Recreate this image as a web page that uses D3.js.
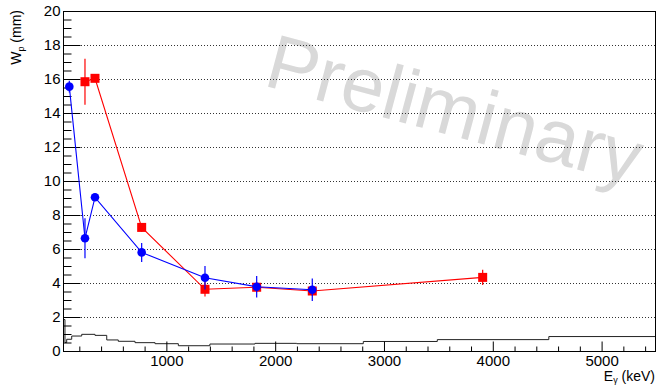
<!DOCTYPE html>
<html>
<head>
<meta charset="utf-8">
<script src="https://cdn.jsdelivr.net/npm/d3@7"></script>
<style>
  html, body { margin: 0; padding: 0; background: #fff; }
  svg { display: block; font-family: "Liberation Sans", Arial, Helvetica, sans-serif; }
</style>
</head>
<body>
<script>
// ---- data ----
const blueEnergy = [108, 252, 344, 773, 1355, 1830, 2341];
const blueWp     = [15.55, 6.63, 9.04, 5.80, 4.31, 3.78, 3.60];
const blueErr    = [0.34, 1.18, 0.10, 0.56, 0.69, 0.63, 0.66];

const redEnergy  = [252, 344, 773, 1355, 1830, 2341, 3907];
const redWp      = [15.84, 16.04, 7.27, 3.63, 3.75, 3.53, 4.33];
const redErr     = [1.35, 0.10, 0.25, 0.43, 0.30, 0.30, 0.45];

// background histogram (bin edges in keV, contents)
const histEdges  = [50, 68, 84, 130, 222, 344, 452, 558, 712, 896, 1110, 1400, 1815, 2198, 2810, 3490, 4515, 5500];
const histValues = [1.85, 0.50, 0.69, 0.88, 0.98, 0.92, 0.65, 0.57, 0.49, 0.43, 0.31, 0.41, 0.45, 0.43, 0.56, 0.67, 0.85];

const yMajorTicks = [0, 2, 4, 6, 8, 10, 12, 14, 16, 18, 20];
const xMajorTicks = [1000, 2000, 3000, 4000, 5000];
const yTickLabels = yMajorTicks.map(String);
const xTickLabels = xMajorTicks.map(String);

// ---- layout ----
const W = 657, H = 385;
const L = 63, R = 656, T = 11, B = 351;

const svg = d3.select("body").append("svg").attr("width", W).attr("height", H);
svg.append("rect").attr("width", W).attr("height", H).attr("fill", "#fff");

const x = d3.scaleLinear().domain([50, 5500]).range([L, R]);
const y = d3.scaleLinear().domain([0, 20]).range([B, T]);

// watermark
svg.append("text")
  .attr("transform", "translate(262,85) rotate(15)")
  .attr("font-size", 77)
  .attr("fill", "#d9d9d9")
  .text("Preliminary");

// grid
svg.append("g").selectAll("line")
  .data(yMajorTicks.filter(v => v > 0 && v < 20))
  .join("line")
  .attr("x1", L).attr("x2", R)
  .attr("y1", d => y(d) + 0.5).attr("y2", d => y(d) + 0.5)
  .attr("stroke", "#333").attr("stroke-width", 1)
  .attr("stroke-dasharray", "1,2");

// histogram
const histPts = histEdges.map((e, i) => [e, histValues[Math.min(i, histValues.length - 1)]]);
svg.append("path")
  .attr("d", d3.line().x(d => x(d[0])).y(d => y(d[1])).curve(d3.curveStepAfter)(histPts))
  .attr("fill", "none").attr("stroke", "#222").attr("stroke-width", 1);

// y axis
const yMinor = d3.range(0, 20.01, 0.5).filter(v => !yMajorTicks.includes(v));
const yAxis = svg.append("g").attr("transform", `translate(${L + 0.5},0)`);
yAxis.call(d3.axisLeft(y).tickValues(yMajorTicks).tickSize(-17).tickPadding(3)
  .tickFormat((d, i) => yTickLabels[i]));
const yAxisMin = svg.append("g").attr("transform", `translate(${L + 0.5},0)`);
yAxisMin.call(d3.axisLeft(y).tickValues(yMinor).tickSize(-8).tickFormat(""));

// x axis
const xMinor = d3.range(200, 5500, 200).filter(v => !xMajorTicks.includes(v));
const xAxis = svg.append("g").attr("transform", `translate(0,${B + 0.5})`);
xAxis.call(d3.axisBottom(x).tickValues(xMajorTicks).tickSize(-10).tickPadding(4)
  .tickFormat((d, i) => xTickLabels[i]));
const xAxisMin = svg.append("g").attr("transform", `translate(0,${B + 0.5})`);
xAxisMin.call(d3.axisBottom(x).tickValues(xMinor).tickSize(-5).tickFormat(""));

[yAxis, yAxisMin, xAxis, xAxisMin].forEach(g => {
  g.select(".domain").remove();
  g.selectAll(".tick line").attr("stroke", "#000");
  g.selectAll("text").attr("font-size", 15).attr("fill", "#000")
    .attr("font-family", '"Liberation Sans", Arial, sans-serif');
});

// frame
svg.append("rect")
  .attr("x", L + 0.5).attr("y", T + 0.5)
  .attr("width", R - L - 1).attr("height", B - T)
  .attr("fill", "none").attr("stroke", "#000").attr("stroke-width", 1);

// series
function drawSeries(xs, ys, es, color, shape) {
  const pts = xs.map((e, i) => ({ e, v: ys[i], err: es[i] }));
  const g = svg.append("g");
  g.append("path")
    .attr("d", d3.line().x(d => x(d.e)).y(d => y(d.v))(pts))
    .attr("fill", "none").attr("stroke", color).attr("stroke-width", 1.1);
  g.selectAll("line.err").data(pts).join("line")
    .attr("class", "err")
    .attr("x1", d => x(d.e)).attr("x2", d => x(d.e))
    .attr("y1", d => y(d.v + d.err)).attr("y2", d => y(d.v - d.err))
    .attr("stroke", color).attr("stroke-width", 1.2);
  if (shape === "circle") {
    g.selectAll("circle").data(pts).join("circle")
      .attr("cx", d => x(d.e)).attr("cy", d => y(d.v)).attr("r", 4.3)
      .attr("fill", color);
  } else {
    const s = 9;
    g.selectAll("rect").data(pts).join("rect")
      .attr("x", d => x(d.e) - s / 2).attr("y", d => y(d.v) - s / 2)
      .attr("width", s).attr("height", s).attr("fill", color);
  }
}
drawSeries(redEnergy, redWp, redErr, "#ff0000", "square");
drawSeries(blueEnergy, blueWp, blueErr, "#0000ff", "circle");

// axis titles
const yt = svg.append("text")
  .attr("transform", "translate(21,10) rotate(-90)")
  .attr("text-anchor", "end")
  .attr("font-size", 14).attr("fill", "#000");
yt.append("tspan").text("W");
yt.append("tspan").attr("font-size", 9).attr("dy", 3).text("p");
yt.append("tspan").attr("dy", -3).text(" (mm)");

const xt = svg.append("text")
  .attr("x", 655).attr("y", 381)
  .attr("text-anchor", "end")
  .attr("font-size", 14).attr("fill", "#000");
xt.append("tspan").text("E");
xt.append("tspan").attr("font-size", 9).attr("dy", 2).text("γ");
xt.append("tspan").attr("dy", -2).text(" (keV)");
</script>
</body>
</html>
